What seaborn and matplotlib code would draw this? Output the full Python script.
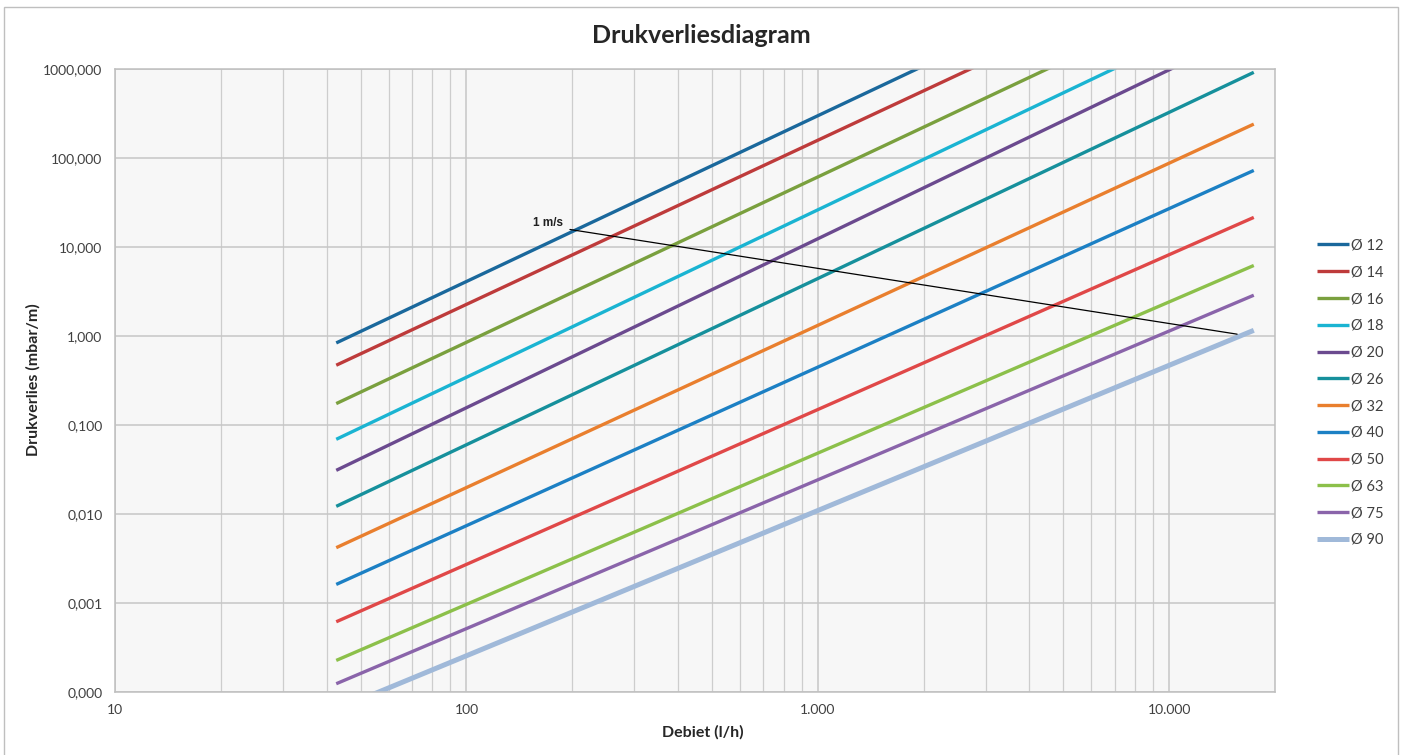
import numpy as np
import pandas as pd
import matplotlib
matplotlib.use("Agg")
import matplotlib.pyplot as plt
import matplotlib.ticker as mticker
from matplotlib.patches import Rectangle
import seaborn as sns

diameters = ["Ø 12", "Ø 14", "Ø 16", "Ø 18", "Ø 20", "Ø 26",
             "Ø 32", "Ø 40", "Ø 50", "Ø 63", "Ø 75", "Ø 90"]
debiet = [42.6, 17400]  # l/h
verlies_begin = [0.837, 0.470, 0.174, 0.069, 0.0309, 0.01216,
                 0.00417, 0.00161, 0.000612, 0.000225, 0.000123, 0.000063]
verlies_eind = [61800, 31100, 12500, 5700, 2830, 925,
                242, 72.9, 21.6, 6.22, 2.88, 1.16]

# lijn voor 1 m/s
snelheid_debiet = [197, 15600]
snelheid_verlies = [15.8, 1.05]

kleuren = ["#1a689c", "#be3b3b", "#7aa03e", "#1ab4d2", "#6b4a8f", "#16909c",
           "#e97f2e", "#1c80c4", "#e04848", "#8cc04a", "#8a64aa", "#a0b9d9"]

sns.set_theme(style="white")
plt.rcParams["font.family"] = ["Lato", "DejaVu Sans"]

# long-form tabel voor seaborn
rows = []
for naam, v0, v1 in zip(diameters, verlies_begin, verlies_eind):
    rows.append({"diameter": naam, "debiet": debiet[0], "verlies": v0})
    rows.append({"diameter": naam, "debiet": debiet[1], "verlies": v1})
df = pd.DataFrame(rows)

fig = plt.figure(figsize=(14.05, 7.55), dpi=100)
ax = fig.add_axes([0.0819, 0.0838, 0.8256, 0.8244])
ax.set_facecolor("#f7f7f7")

ax.set_xscale("log")
ax.set_yscale("log")
ax.set_xlim(10, 20000)
ax.set_ylim(0.0001, 1000)

# raster
ax.xaxis.set_major_locator(mticker.LogLocator(base=10, numticks=10))
ax.xaxis.set_minor_locator(mticker.LogLocator(base=10, subs=np.arange(2, 10), numticks=20))
ax.yaxis.set_major_locator(mticker.LogLocator(base=10, numticks=12))
ax.yaxis.set_minor_locator(mticker.NullLocator())
ax.grid(which="major", color="#c6c6c6", linewidth=1.1)
ax.grid(which="minor", axis="x", color="#cdcdcd", linewidth=0.9)
ax.set_axisbelow(True)

for i, naam in enumerate(diameters):
    sub = df[df["diameter"] == naam]
    lw = 3.6 if naam == "Ø 90" else 2.4
    sns.lineplot(data=sub, x="debiet", y="verlies", color=kleuren[i],
                 linewidth=lw, label=naam, ax=ax, solid_capstyle="butt")

ax.plot(snelheid_debiet, snelheid_verlies, color="black", linewidth=0.9)
ax.annotate("1 m/s", xy=(snelheid_debiet[0], snelheid_verlies[0]),
            xytext=(-16, 5), textcoords="offset points", ha="center", va="center",
            fontsize=8.5, fontweight="bold", color="#202020",
            family=["Liberation Sans", "DejaVu Sans"])

ax.xaxis.set_major_formatter(mticker.FuncFormatter(lambda v, p: f"{int(round(v)):,}".replace(",", ".")))
ax.xaxis.set_minor_formatter(mticker.NullFormatter())
ax.yaxis.set_major_formatter(mticker.FuncFormatter(lambda v, p: f"{v:.3f}".replace(".", ",")))

ax.tick_params(axis="both", which="major", length=4, width=1, color="#bfbfbf",
               labelsize=10, labelcolor="#404040", pad=5)
ax.tick_params(axis="x", which="minor", length=0)
for s in ax.spines.values():
    s.set_color("#bfbfbf")
    s.set_linewidth(1.1)

ax.set_xlabel("")
ax.set_ylabel("")
fig.text(0.5, 0.030, "Debiet (l/h)", ha="center", va="center",
         fontsize=11.5, fontweight="bold", color="#262626")
fig.text(0.0235, 0.497, "Drukverlies (mbar/m)", ha="center", va="center",
         rotation=90, fontsize=11.5, fontweight="bold", color="#262626")
fig.text(0.499, 0.953, "Drukverliesdiagram", ha="center", va="center",
         fontsize=18, fontweight="bold", color="#262626")

handles, labels = ax.get_legend_handles_labels()
ax.legend_.remove()
fig.legend(handles, labels, loc="upper left", bbox_to_anchor=(0.9375, 0.684),
           frameon=False, fontsize=10.5, handlelength=2.2, handletextpad=0.12,
           labelspacing=0.875, borderpad=0, borderaxespad=0, labelcolor="#404040")

# rand om de figuur
fig.patches.append(Rectangle((0.003, -0.05), 0.992, 1.041, transform=fig.transFigure,
                             fill=False, edgecolor="#bfbfbf", linewidth=1.0))

fig.savefig("out.png", dpi=100)
